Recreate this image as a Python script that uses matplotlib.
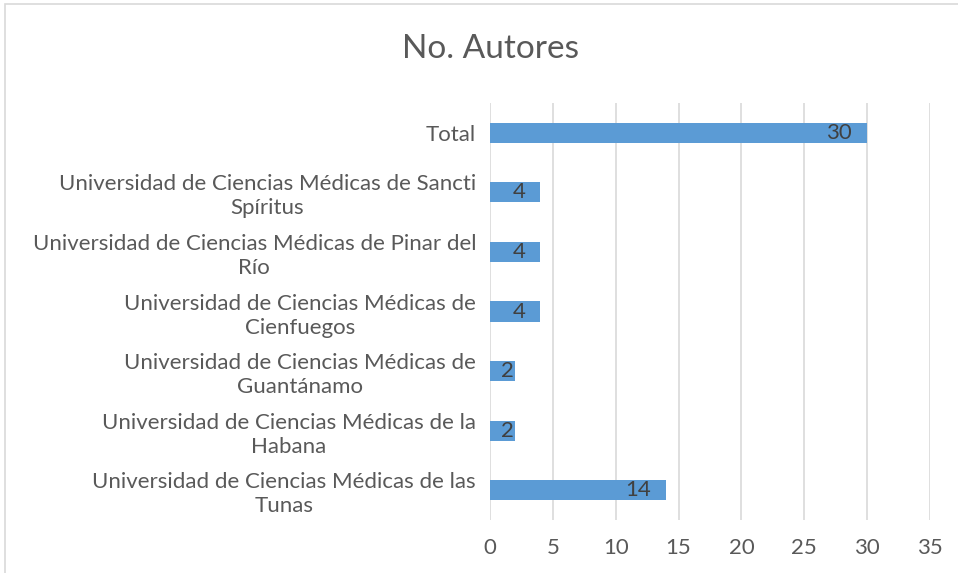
import matplotlib.pyplot as plt
from matplotlib.patches import Rectangle

plt.rcParams['font.family'] = ['Lato', 'DejaVu Sans']

# categorías (de arriba hacia abajo)
categorias = [
    'Total',
    'Universidad de Ciencias Médicas de Sancti\nSpíritus',
    'Universidad de Ciencias Médicas de Pinar del\nRío',
    'Universidad de Ciencias Médicas de\nCienfuegos',
    'Universidad de Ciencias Médicas de\nGuantánamo',
    'Universidad de Ciencias Médicas de la\nHabana',
    'Universidad de Ciencias Médicas de las\nTunas',
]
autores = [30, 4, 4, 4, 2, 2, 14]
xticks = [0, 5, 10, 15, 20, 25, 30, 35]

fig = plt.figure(figsize=(9.58, 5.73), dpi=100)
ax = fig.add_axes([490 / 958, 1 - 520 / 573, 440 / 958, 417 / 573])

pos = list(range(len(categorias)))
ax.barh(pos, autores, height=0.34, color='#5B9BD5', zorder=3)
ax.set_ylim(len(categorias) - 0.5, -0.5)
ax.set_xlim(0, 35)
ax.set_xticks(xticks)
ax.set_yticks(pos)
ax.set_yticklabels(categorias, multialignment='center', fontsize=16, color='#595959',
                   linespacing=1.25)
ax.tick_params(axis='x', length=0, pad=13, labelsize=16, labelcolor='#595959')
ax.tick_params(axis='y', length=0, pad=10)
ax.grid(axis='x', color='#D9D9D9', linewidth=1.2, zorder=0)
for s in ax.spines.values():
    s.set_visible(False)

# etiquetas de datos (extremo interno)
for p, v in zip(pos, autores):
    if v < 3:
        ax.annotate(str(v), (v, p), xytext=(-1, 0), textcoords='offset pixels',
                    ha='right', va='center', fontsize=16, color='#404040', zorder=4)
    else:
        ax.annotate(str(v), (v, p), xytext=(-15, 0), textcoords='offset pixels',
                    ha='right', va='center', fontsize=16, color='#404040', zorder=4)

fig.text(490 / 958, 1 - 49 / 573, 'No. Autores', ha='center', va='center',
         fontsize=24, color='#595959')

# borde del gráfico
fig.patches.append(Rectangle((5 / 958, -0.1), 1.2, 1.1 - 4 / 573,
                             transform=fig.transFigure, fill=False,
                             edgecolor='#D9D9D9', linewidth=1.2))

fig.savefig('out.png', dpi=100)
